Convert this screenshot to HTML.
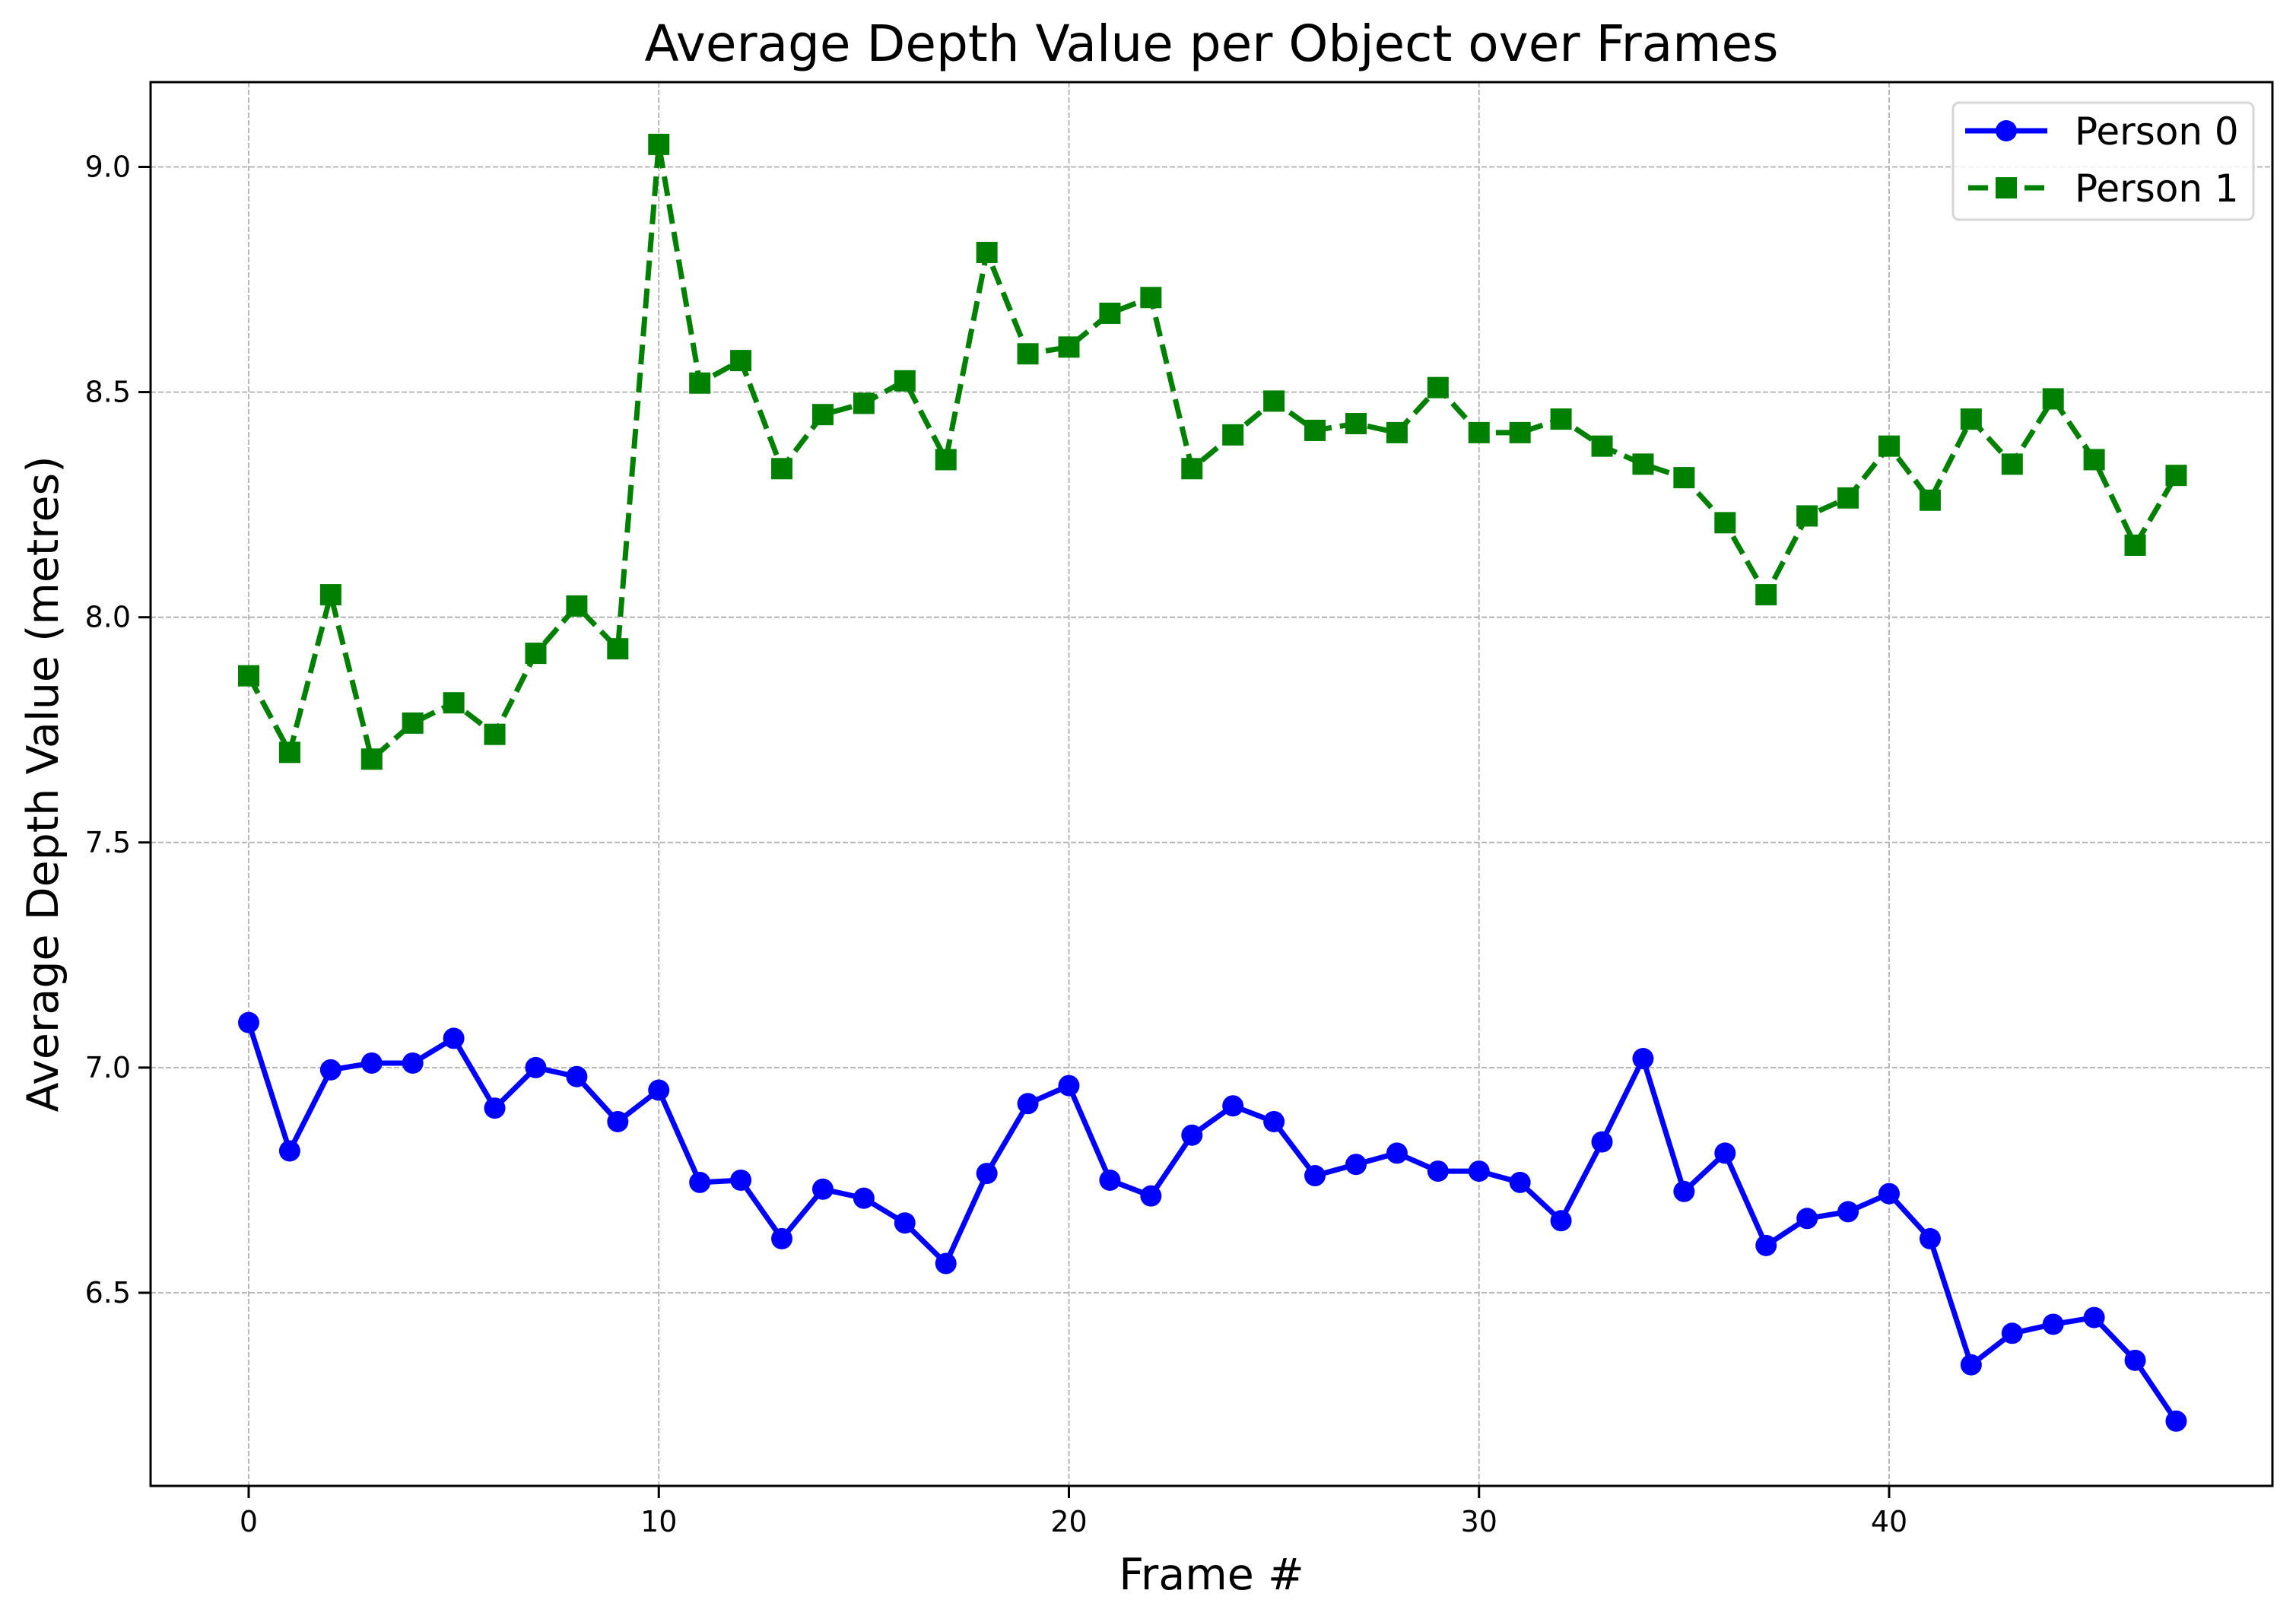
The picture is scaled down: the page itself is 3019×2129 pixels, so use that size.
<!DOCTYPE html>
<html><head><meta charset="utf-8"><style>html,body{margin:0;padding:0;background:#fff}svg{display:block}text{font-family:"DejaVu Sans","Liberation Sans",sans-serif}</style></head>
<body>
<svg id="chart" width="3019" height="2129" viewBox="0 0 3019 2129"></svg>
<script>
const frames = Array.from({length:48},(_, i)=>i);
const person0 = [7.10,6.815,6.995,7.01,7.01,7.065,6.91,7.0,6.98,6.88,6.95,6.745,6.75,6.62,6.73,6.71,6.655,6.565,6.765,6.92,6.96,6.75,6.715,6.85,6.915,6.88,6.76,6.785,6.81,6.77,6.77,6.745,6.66,6.835,7.02,6.725,6.81,6.605,6.665,6.68,6.72,6.62,6.34,6.41,6.43,6.445,6.35,6.215];
const person1 = [7.87,7.70,8.05,7.685,7.765,7.81,7.74,7.92,8.025,7.93,9.05,8.52,8.57,8.33,8.45,8.475,8.525,8.35,8.81,8.585,8.60,8.675,8.71,8.33,8.405,8.48,8.415,8.43,8.41,8.51,8.41,8.41,8.44,8.38,8.34,8.31,8.21,8.05,8.225,8.265,8.38,8.26,8.44,8.34,8.485,8.35,8.16,8.315];
const xTicks = [0,10,20,30,40];
const yTicks = [6.5,7.0,7.5,8.0,8.5,9.0];

const L=198,R=2988,T=108,B=1954;
const X=v=>327+(v-0)*(2484-327)/40;
const Y=v=>219.5+(9.0-v)*(1700-219.5)/2.5;
const svg=document.getElementById('chart');
const NS='http://www.w3.org/2000/svg';
function mk(tag,attrs,parent){const e=document.createElementNS(NS,tag);for(const k in attrs)e.setAttribute(k,attrs[k]);(parent||svg).appendChild(e);return e;}

const grid=mk('g',{});


xTicks.forEach(t=>{const l=mk('line',{x1:X(t),x2:X(t),y1:T,y2:B,stroke:'#b0b0b0','stroke-width':1.8,'stroke-dasharray':'7,3'},grid);

});
yTicks.forEach(t=>{const l=mk('line',{x1:L,x2:R,y1:Y(t),y2:Y(t),stroke:'#b0b0b0','stroke-width':1.8,'stroke-dasharray':'7,3'},grid);

});

xTicks.forEach(t=>{mk('line',{x1:X(t),x2:X(t),y1:B,y2:B+16,stroke:'#000','stroke-width':3});
const tx=mk('text',{x:X(t),y:B+60,'text-anchor':'middle','font-size':38});tx.textContent=t;

});
yTicks.forEach(t=>{mk('line',{x1:L-16,x2:L,y1:Y(t),y2:Y(t),stroke:'#000','stroke-width':3});
const tx=mk('text',{x:L-26,y:Y(t)+13,'text-anchor':'end','font-size':38});tx.textContent=t.toFixed(1);

});

function series(vals,color,dash,marker,name){
  const g=mk('g',{});
  
  
  const pts=vals.map((v,i)=>X(frames[i])+','+Y(v)).join(' ');
  const a={points:pts,fill:'none',stroke:color,'stroke-width':7,'stroke-linejoin':'round'};
  if(dash)a['stroke-dasharray']=dash;
  mk('polyline',a,g);
  vals.forEach((v,i)=>{let m;
    if(marker==='o')m=mk('circle',{cx:X(frames[i]),cy:Y(v),r:14,fill:color},g);
    else m=mk('rect',{x:X(frames[i])-14,y:Y(v)-14,width:28,height:28,fill:color},g);
    
    });
}
series(person0,'#0000ff',null,'o','series-person-0');
series(person1,'#008000','26,11','s','series-person-1');

const frame=mk('rect',{x:L,y:T,width:R-L,height:B-T,fill:'none',stroke:'#000','stroke-width':3});



const title=mk('text',{x:(L+R)/2,y:80,'text-anchor':'middle','font-size':66});title.textContent='Average Depth Value per Object over Frames';


const xl=mk('text',{x:(L+R)/2,y:2090,'text-anchor':'middle','font-size':57});xl.textContent='Frame #';


const yl=mk('text',{x:0,y:0,'text-anchor':'middle','font-size':57,transform:'translate(76,1031) rotate(-90)'});yl.textContent='Average Depth Value (metres)';



const lg=mk('g',{});


mk('rect',{x:2568,y:135,width:395,height:154,rx:8,fill:'#fff','fill-opacity':0.8,stroke:'#d6d6d6','stroke-width':3},lg);
mk('line',{x1:2584,x2:2692,y1:172,y2:172,stroke:'#0000ff','stroke-width':7},lg);
mk('circle',{cx:2638,cy:172,r:14,fill:'#0000ff'},lg);
mk('line',{x1:2588,x2:2688,y1:247,y2:247,stroke:'#008000','stroke-width':7,'stroke-dasharray':'26,11'},lg);
mk('rect',{x:2624,y:233,width:28,height:28,fill:'#008000'},lg);
const t0=mk('text',{x:2728,y:190,'font-size':50},lg);t0.textContent='Person 0';


const t1=mk('text',{x:2728,y:265,'font-size':50},lg);t1.textContent='Person 1';


</script>
</body></html>
